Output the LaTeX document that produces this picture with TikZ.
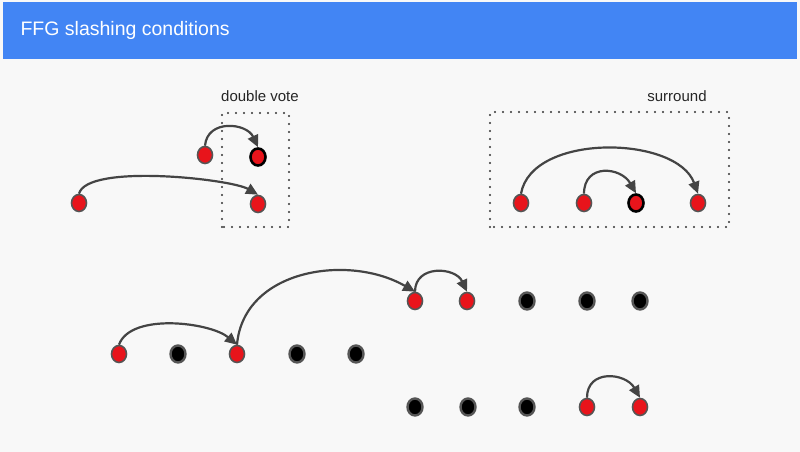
\documentclass[tikz,border=0pt]{standalone}
\usepackage{fontspec}
\setmainfont{Liberation Sans}
\usetikzlibrary{shapes.geometric,arrows.meta}
\definecolor{slideblue}{HTML}{4285F4}
\definecolor{slidebg}{HTML}{F8F8F8}
\definecolor{votered}{HTML}{E8141B}
\definecolor{rimgray}{HTML}{555555}
\definecolor{linkgray}{HTML}{444444}
\tikzset{
	vote/.style={ellipse, minimum width=15pt, minimum height=17pt, inner sep=0pt},
	redvote/.style={vote, fill=votered, draw=rimgray, line width=1.6pt},
	blackvote/.style={vote, fill=black, draw=rimgray, line width=2.4pt},
	slashvote/.style={vote, fill=votered, draw=black, line width=2.6pt},
	frame/.style={draw=black!80, line width=2.4pt, dash pattern=on 0pt off 8pt, line cap=round},
	link/.style={draw=linkgray, line width=2.2pt, -{Triangle[length=12pt,width=11pt]}},
	caption/.style={font=\fontsize{15}{18}\selectfont, text=black!85}
}
\begin{document}
\begin{tikzpicture}[x=1pt,y=1pt]
	    \useasboundingbox (0,0) rectangle (800,452);
	    \fill[slidebg] (0,0) rectangle (800,452);
	    \fill[slideblue] (3,393) rectangle (797,450);
	    \node[anchor=west, text=white, font=\fontsize{19.5}{23}\selectfont] (title) at (17,422) {FFG slashing conditions};
	    % double vote
	    \draw[frame] (222,225) rectangle (289,339);
	    \node[caption] (dvlabel) at (260,356) {double vote};
	    \node[redvote] (d1) at (205,297) {};
	    \node[slashvote] (d2) at (258,295) {};
	    \node[redvote] (d3) at (79,249) {};
	    \node[redvote] (d4) at (258,248) {};
	    \draw[link] (d1.north) to[out=85, in=115, looseness=1.3] (d2.north);
	    \draw[link] (d3.north) to[out=75, in=150, looseness=0.45] (d4.north);
	    % surround
	    \draw[frame] (490,225) rectangle (729,340);
	    \node[caption] (srlabel) at (677,356) {surround};
	    \node[redvote] (s1) at (521,249) {};
	    \node[redvote] (s2) at (584,249) {};
	    \node[slashvote] (s3) at (636,249) {};
	    \node[redvote] (s4) at (698,249) {};
	    \draw[link] (s1.north) to[out=80, in=110, looseness=0.9] (s4.north);
	    \draw[link] (s2.north) to[out=90, in=120, looseness=1.5] (s3.north);
	    % chain
	    \node[redvote] (a1) at (119,98) {};
	    \node[blackvote] (a2) at (178,98) {};
	    \node[redvote] (a3) at (237,98) {};
	    \node[blackvote] (a4) at (297,98) {};
	    \node[blackvote] (a5) at (356,98) {};
	    \node[redvote] (b1) at (415,151) {};
	    \node[redvote] (b2) at (467,151) {};
	    \node[blackvote] (b3) at (527,151) {};
	    \node[blackvote] (b4) at (587,151) {};
	    \node[blackvote] (b5) at (640,151) {};
	    \node[blackvote] (c1) at (415,45) {};
	    \node[blackvote] (c2) at (468,45) {};
	    \node[blackvote] (c3) at (527,45) {};
	    \node[redvote] (c4) at (587,45) {};
	    \node[redvote] (c5) at (640,45) {};
	    \draw[link] (a1.north) to[out=70, in=140, looseness=0.75] (a3.north);
	    \draw[link] (a3.north) to[out=85, in=150, looseness=1.05] (b1.north);
	    \draw[link] (b1.north) to[out=90, in=115, looseness=1.35] (b2.north);
	    \draw[link] (c4.north) to[out=90, in=120, looseness=1.4] (c5.north);
        \end{tikzpicture}
\end{document}
